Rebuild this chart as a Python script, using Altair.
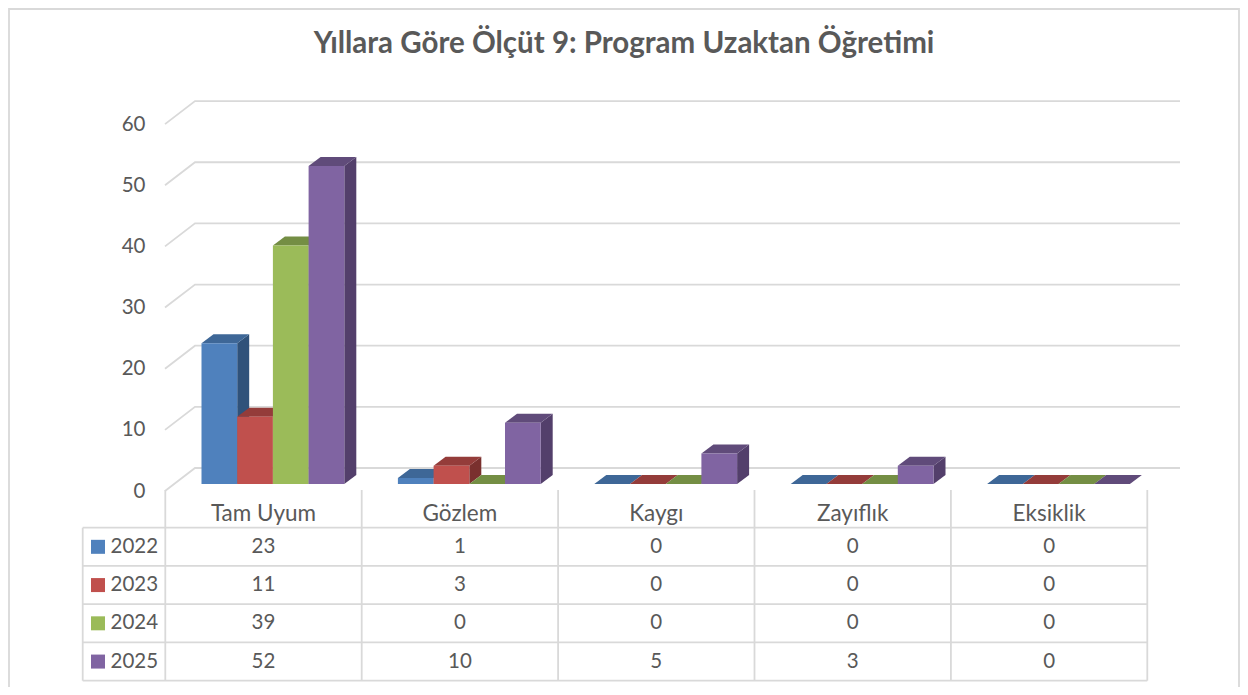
import altair as alt
import pandas as pd

# ---- chart values -------------------------------------------------------
CATEGORIES = ["Tam Uyum", "Gözlem", "Kaygı", "Zayıflık", "Eksiklik"]
YEARS = ["2022", "2023", "2024", "2025"]
V2022 = [23, 1, 0, 0, 0]
V2023 = [11, 3, 0, 0, 0]
V2024 = [39, 0, 0, 0, 0]
V2025 = [52, 10, 5, 3, 0]
SERIES = [V2022, V2023, V2024, V2025]
Y_TICKS = [0, 10, 20, 30, 40, 50, 60]
TITLE = "Yıllara Göre Ölçüt 9: Program Uzaktan Öğretimi"

# ---- styling ------------------------------------------------------------
FRONT = ["#4F81BD", "#C0504D", "#9BBB59", "#8064A2"]
TOPS = ["#3E6797", "#943C3A", "#748E44", "#604B7A"]
SIDES = ["#30527A", "#7A302E", "#5F7538", "#533F6B"]
LINE = "#D9D9D9"
TEXT = "#595959"
FONT = "Lato"

# ---- layout (in screen pixels, converted to data units) ----------------
W, H = 1232, 679
CAT_STEP = 196.4      # px per category
BAR_W = 35.7 / CAT_STEP
DEPTH_X = 12 / CAT_STEP
UNIT = 6.115          # px per value unit
DEPTH_Y = 9 / UNIT


def ux(sx):
    return (sx - 201.5) / CAT_STEP


def uy(sy):
    return (484 - sy) / UNIT


xs = alt.Scale(domain=[ux(8), ux(8 + W)], range=[0, W], nice=False, zero=False)
ys = alt.Scale(domain=[uy(8 + H), uy(8)], range=[H, 0], nice=False, zero=False)


def X(f):
    return alt.X(f, type="quantitative", scale=xs, axis=None, stack=False, title=None)


def Y(f):
    return alt.Y(f, type="quantitative", scale=ys, axis=None, stack=False, title=None)


layers = []

# back wall grid
grid = []
for t in Y_TICKS:
    back = t + uy(468)
    front = t + uy(491)
    grid += [
        {"t": t, "o": 0, "x": ux(165), "y": front},
        {"t": t, "o": 1, "x": ux(195), "y": back},
        {"t": t, "o": 2, "x": ux(1180), "y": back},
    ]
layers.append(
    alt.Chart(pd.DataFrame(grid))
    .mark_line(color=LINE, strokeWidth=1.8)
    .encode(x=X("x"), y=Y("y"), detail="t:N", order="o:Q")
)

# tick labels
layers.append(
    alt.Chart(pd.DataFrame({"t": Y_TICKS, "x": [ux(145.5)] * len(Y_TICKS), "y": [v + uy(491.5) for v in Y_TICKS]}))
    .mark_text(align="right", baseline="middle", font=FONT, fontSize=20.5, color=TEXT)
    .encode(x=X("x"), y=Y("y"), text="t:Q")
)

# 3D bars: side, top, then front for each series, in order
for s, vals in enumerate(SERIES):
    side, top, front = [], [], []
    for c, v in enumerate(vals):
        left = c + s * BAR_W
        right = left + BAR_W
        side += [
            {"c": c, "x": right, "y": v, "y2": 0},
            {"c": c, "x": right + DEPTH_X, "y": v + DEPTH_Y, "y2": DEPTH_Y},
        ]
        top += [
            {"c": c, "y": v, "x": left, "x2": right},
            {"c": c, "y": v + DEPTH_Y, "x": left + DEPTH_X, "x2": right + DEPTH_X},
        ]
        front.append({"c": c, "x": left, "x2": right, "y": v, "y2": 0})
    layers.append(
        alt.Chart(pd.DataFrame(side))
        .mark_area(orient="vertical", color=SIDES[s])
        .encode(x=X("x"), y=Y("y"), y2="y2:Q", detail="c:N")
    )
    layers.append(
        alt.Chart(pd.DataFrame(top))
        .mark_area(orient="horizontal", color=TOPS[s])
        .encode(y=Y("y"), x=X("x"), x2="x2:Q", detail="c:N")
    )
    layers.append(
        alt.Chart(pd.DataFrame(front))
        .mark_rect(color=FRONT[s])
        .encode(x=X("x"), x2="x2:Q", y=Y("y"), y2="y2:Q")
    )

# data table
COL0 = 165.3
ROW0 = 527.7
ROW_STEP = 38.25
col_edges = [COL0 + CAT_STEP * k for k in range(len(CATEGORIES) + 1)]
row_edges = [ROW0 + ROW_STEP * k for k in range(len(YEARS) + 1)]
tbl_left, tbl_right = 82.7, col_edges[-1]

h_rules = [{"x": ux(tbl_left), "x2": ux(tbl_right), "y": uy(r)} for r in row_edges]
v_rules = [{"x": ux(e), "y": uy(490), "y2": uy(row_edges[-1])} for e in col_edges]
v_rules.append({"x": ux(tbl_left), "y": uy(ROW0), "y2": uy(row_edges[-1])})
layers.append(
    alt.Chart(pd.DataFrame(h_rules))
    .mark_rule(color=LINE, strokeWidth=1.8)
    .encode(x=X("x"), x2="x2:Q", y=Y("y"))
)
layers.append(
    alt.Chart(pd.DataFrame(v_rules))
    .mark_rule(color=LINE, strokeWidth=1.8)
    .encode(x=X("x"), y=Y("y"), y2="y2:Q")
)

col_mid = [ux(COL0 + CAT_STEP * (k + 0.5)) for k in range(len(CATEGORIES))]
row_mid = [uy(ROW0 + ROW_STEP * (k + 0.5)) for k in range(len(YEARS))]

layers.append(
    alt.Chart(pd.DataFrame({"t": CATEGORIES, "x": col_mid, "y": [uy(514)] * len(CATEGORIES)}))
    .mark_text(align="center", baseline="middle", font=FONT, fontSize=22.5, color=TEXT)
    .encode(x=X("x"), y=Y("y"), text="t:N")
)
cells = [
    {"t": str(v), "x": col_mid[c], "y": row_mid[s]}
    for s, vals in enumerate(SERIES)
    for c, v in enumerate(vals)
]
layers.append(
    alt.Chart(pd.DataFrame(cells))
    .mark_text(align="center", baseline="middle", font=FONT, fontSize=20.5, color=TEXT)
    .encode(x=X("x"), y=Y("y"), text="t:N")
)
layers.append(
    alt.Chart(pd.DataFrame({"t": YEARS, "x": [ux(110.5)] * len(YEARS), "y": row_mid}))
    .mark_text(align="left", baseline="middle", font=FONT, fontSize=20.5, color=TEXT)
    .encode(x=X("x"), y=Y("y"), text="t:N")
)
layers.append(
    alt.Chart(pd.DataFrame({"t": YEARS, "x": [ux(98)] * len(YEARS), "y": row_mid}))
    .mark_square(size=196, opacity=1)
    .encode(
        x=X("x"),
        y=Y("y"),
        color=alt.Color("t:N", scale=alt.Scale(domain=YEARS, range=FRONT), legend=None),
    )
)

# title
layers.append(
    alt.Chart(pd.DataFrame({"t": [TITLE], "x": [ux(624)], "y": [uy(44)]}))
    .mark_text(align="center", baseline="middle", font=FONT, fontSize=29.5, fontWeight="bold", color=TEXT)
    .encode(x=X("x"), y=Y("y"), text="t:N")
)

# chart frame (kept inside the drawable area of the page)
for fx in (1, W - 1):
    layers.append(
        alt.Chart(pd.DataFrame({"k": [0]}))
        .mark_rule(color=LINE, strokeWidth=1.8)
        .encode(x=alt.value(fx), y=alt.value(0), y2=alt.value(H))
    )
layers.append(
    alt.Chart(pd.DataFrame({"k": [0]}))
    .mark_rule(color=LINE, strokeWidth=1.8)
    .encode(x=alt.value(1), x2=alt.value(W - 1), y=alt.value(1))
)

chart = (
    alt.layer(*layers)
    .properties(
        width=W,
        height=H,
        padding=0,
        autosize=alt.AutoSizeParams(type="none"),
        background="white",
    )
    .configure_view(stroke=None)
)

chart.save("out.html", embed_options={"renderer": "svg", "actions": False})
